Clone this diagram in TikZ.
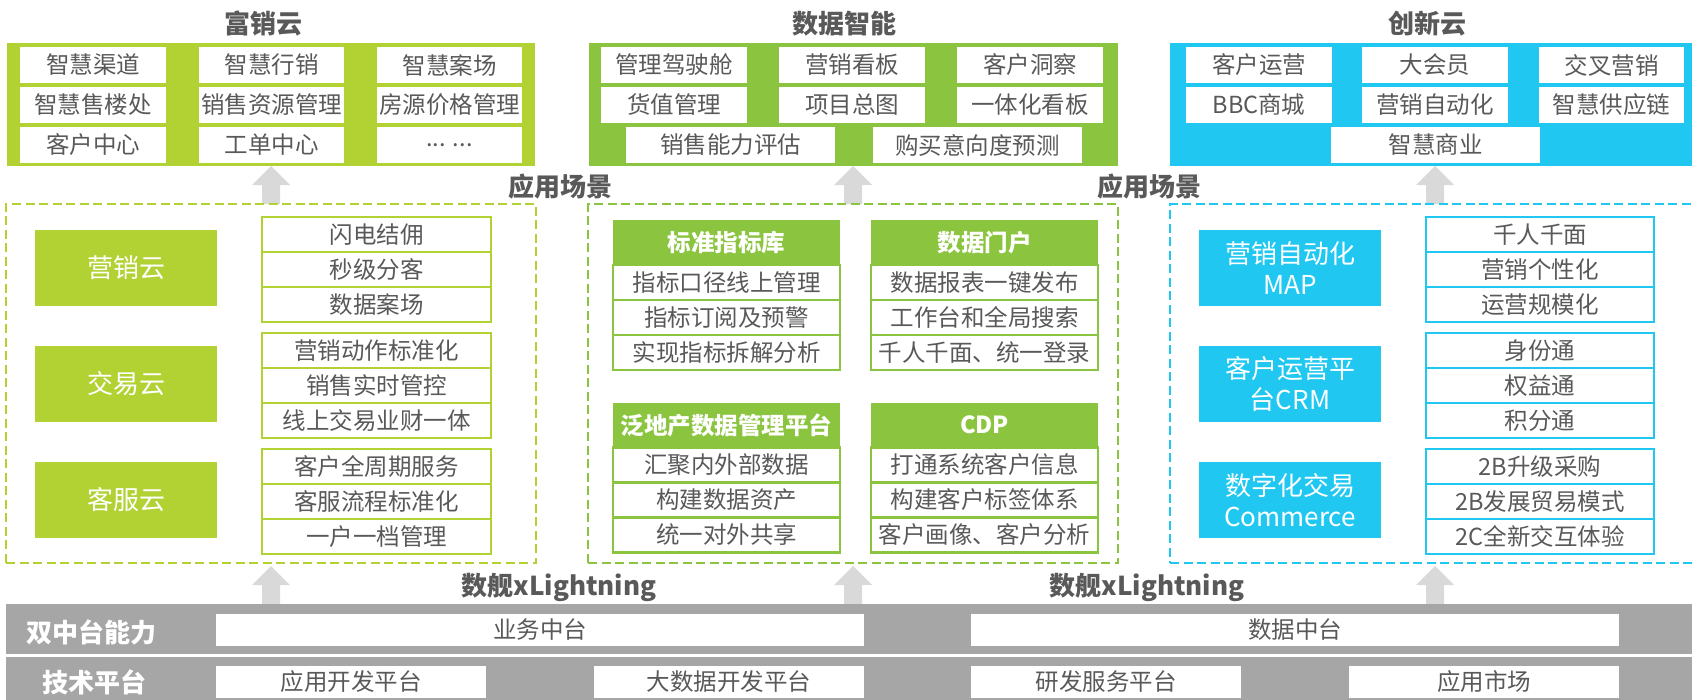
\documentclass[tikz,border=0pt]{standalone}
\usepackage{fontspec}
\setmainfont{Noto Sans CJK SC}
\definecolor{lg}{HTML}{B2D234}
\definecolor{mg}{HTML}{8BC53F}
\definecolor{cy}{HTML}{20C8F1}
\definecolor{gbar}{HTML}{A6A6A6}
\definecolor{agray}{HTML}{D9D9D9}
\definecolor{txt}{HTML}{595959}
\tikzset{
 base/.style={inner sep=0pt, outer sep=0pt},
 itemfont/.style={font=\fontsize{23.5}{26}\selectfont},
 wbox/.style={base, itemfont, text=txt, fill=white, minimum height=36pt},
 fillpanel/.style={base, anchor=north west, fill=#1},
 dpanel/.style={base, anchor=north west, draw=#1, line width=2pt, dash pattern=on 9pt off 4.5pt},
 cloudbox/.style={base, fill=#1, text=white, minimum width=182pt, minimum height=76pt, font=\fontsize{26}{31}\selectfont, align=center},
 itembox/.style={base, itemfont, text=txt, fill=white, draw=#1, line width=2.5pt, minimum height=35pt},
 hdr/.style={base, fill=mg, text=white, font=\fontsize{23.5}{26}\selectfont\bfseries, minimum width=227pt, minimum height=45pt},
 ttl/.style={base, text=txt, font=\fontsize{26}{30}\selectfont\bfseries},
 barlbl/.style={base, text=white, font=\fontsize{26}{30}\selectfont\bfseries},
 barbox/.style={base, itemfont, text=txt, fill=white, minimum height=32pt},
 uparrow/.pic={\fill[agray] (-9,0) -- (-9,-19) -- (-19,-19) -- (0,-38) -- (19,-19) -- (9,-19) -- (9,0) -- cycle;},
}
\begin{document}
\begin{tikzpicture}[x=1pt,y=-1pt]
\useasboundingbox (0,0) rectangle (1692,699);
\clip (0,0) rectangle (1692,699);
\fill[white] (0,0) rectangle (1692,699);

% ---------- titles ----------
\node[ttl] (t1) at (263,24) {富销云};
\node[ttl] (t2) at (844,24) {数据智能};
\node[ttl] (t3) at (1427,24) {创新云};

% ---------- top panels ----------
\node[fillpanel=lg, minimum width=528pt, minimum height=123pt] (p1) at (7,43) {};
\node[fillpanel=mg, minimum width=529pt, minimum height=123pt] (p2) at (589,43) {};
\node[fillpanel=cy, minimum width=540pt, minimum height=123pt] (p3) at (1170,43) {};

% left top boxes
\node[wbox, minimum width=146pt] (a11) at (93,65) {智慧渠道};
\node[wbox, minimum width=145pt] (a12) at (271.5,65) {智慧行销};
\node[wbox, minimum width=145pt] (a13) at (449.5,65) {智慧案场};
\node[wbox, minimum width=146pt] (a21) at (93,105) {智慧售楼处};
\node[wbox, minimum width=145pt] (a22) at (271.5,105) {销售资源管理};
\node[wbox, minimum width=145pt] (a23) at (449.5,105) {房源价格管理};
\node[wbox, minimum width=146pt] (a31) at (93,145) {客户中心};
\node[wbox, minimum width=145pt] (a32) at (271.5,145) {工单中心};
\node[wbox, minimum width=145pt] (a33) at (449.5,145) {... ...};

% middle top boxes
\node[wbox, minimum width=146pt] (b11) at (674,65) {管理驾驶舱};
\node[wbox, minimum width=146pt] (b12) at (852,65) {营销看板};
\node[wbox, minimum width=146pt] (b13) at (1030,65) {客户洞察};
\node[wbox, minimum width=146pt] (b21) at (674,105) {货值管理};
\node[wbox, minimum width=146pt] (b22) at (852,105) {项目总图};
\node[wbox, minimum width=146pt] (b23) at (1030,105) {一体化看板};
\node[wbox, minimum width=209pt] (b31) at (730.5,145) {销售能力评估};
\node[wbox, minimum width=209pt] (b32) at (977.5,145) {购买意向度预测};

% right top boxes
\node[wbox, minimum width=146pt] (c11) at (1259,65) {客户运营};
\node[wbox, minimum width=146pt] (c12) at (1435,65) {大会员};
\node[wbox, minimum width=145pt] (c13) at (1611.5,65) {交叉营销};
\node[wbox, minimum width=146pt] (c21) at (1259,105) {BBC商城};
\node[wbox, minimum width=146pt] (c22) at (1435,105) {营销自动化};
\node[wbox, minimum width=145pt] (c23) at (1611.5,105) {智慧供应链};
\node[wbox, minimum width=209pt] (c31) at (1435.5,145) {智慧商业};

% ---------- labels ----------
\node[ttl] (s1) at (560,187) {应用场景};
\node[ttl] (s2) at (1149,187) {应用场景};
\node[ttl] (x1) at (559,587) {数舰xLightning};
\node[ttl] (x2) at (1147,587) {数舰xLightning};

% ---------- arrows ----------
\pic at (271,204) {uparrow};
\pic at (853,204) {uparrow};
\pic at (1435,204) {uparrow};
\pic at (271,604) {uparrow};
\pic at (853,604) {uparrow};
\pic at (1435,604) {uparrow};

% ---------- dashed panels ----------
\node[dpanel=lg, minimum width=530pt, minimum height=359pt] (d1) at (6,204) {};
\node[dpanel=mg, minimum width=530pt, minimum height=359pt] (d2) at (588,204) {};
\node[dpanel=cy, minimum width=560pt, minimum height=359pt] (d3) at (1170,204) {};

% left clouds
\node[cloudbox=lg] (e1) at (126,268) {营销云};
\node[cloudbox=lg] (e2) at (126,384) {交易云};
\node[cloudbox=lg] (e3) at (126,500) {客服云};
\node[itembox=lg, minimum width=229pt] (e11) at (376.5,234.5) {闪电结佣};
\node[itembox=lg, minimum width=229pt] (e12) at (376.5,269.5) {秒级分客};
\node[itembox=lg, minimum width=229pt] (e13) at (376.5,304.5) {数据案场};
\node[itembox=lg, minimum width=229pt] (e21) at (376.5,350.5) {营销动作标准化};
\node[itembox=lg, minimum width=229pt] (e22) at (376.5,385.5) {销售实时管控};
\node[itembox=lg, minimum width=229pt] (e23) at (376.5,420.5) {线上交易业财一体};
\node[itembox=lg, minimum width=229pt] (e31) at (376.5,466.5) {客户全周期服务};
\node[itembox=lg, minimum width=229pt] (e32) at (376.5,501.5) {客服流程标准化};
\node[itembox=lg, minimum width=229pt] (e33) at (376.5,536.5) {一户一档管理};

% middle
\node[hdr] (f1) at (726.5,242.5) {标准指标库};
\node[itembox=mg, minimum width=227pt] (f11) at (726.5,282.5) {指标口径线上管理};
\node[itembox=mg, minimum width=227pt] (f12) at (726.5,317.5) {指标订阅及预警};
\node[itembox=mg, minimum width=227pt] (f13) at (726.5,352.5) {实现指标拆解分析};
\node[hdr] (g1) at (984.5,242.5) {数据门户};
\node[itembox=mg, minimum width=227pt] (g11) at (984.5,282.5) {数据报表一键发布};
\node[itembox=mg, minimum width=227pt] (g12) at (984.5,317.5) {工作台和全局搜索};
\node[itembox=mg, minimum width=227pt] (g13) at (984.5,352.5) {千人千面、统一登录};
\node[hdr] (h1) at (726.5,425) {泛地产数据管理平台};
\node[itembox=mg, minimum width=227pt] (h11) at (726.5,465) {汇聚内外部数据};
\node[itembox=mg, minimum width=227pt] (h12) at (726.5,500) {构建数据资产};
\node[itembox=mg, minimum width=227pt] (h13) at (726.5,535) {统一对外共享};
\node[hdr] (k1) at (984.5,425) {CDP};
\node[itembox=mg, minimum width=227pt] (k11) at (984.5,465) {打通系统客户信息};
\node[itembox=mg, minimum width=227pt] (k12) at (984.5,500) {构建客户标签体系};
\node[itembox=mg, minimum width=227pt] (k13) at (984.5,535) {客户画像、客户分析};

% right
\node[cloudbox=cy] (m1) at (1290,268) {营销自动化\\MAP};
\node[cloudbox=cy] (m2) at (1290,384) {客户运营平\\台CRM};
\node[cloudbox=cy] (m3) at (1290,500) {数字化交易\\Commerce};
\node[itembox=cy, minimum width=228pt] (m11) at (1540,234.5) {千人千面};
\node[itembox=cy, minimum width=228pt] (m12) at (1540,269.5) {营销个性化};
\node[itembox=cy, minimum width=228pt] (m13) at (1540,304.5) {运营规模化};
\node[itembox=cy, minimum width=228pt] (m21) at (1540,350.5) {身份通};
\node[itembox=cy, minimum width=228pt] (m22) at (1540,385.5) {权益通};
\node[itembox=cy, minimum width=228pt] (m23) at (1540,420.5) {积分通};
\node[itembox=cy, minimum width=228pt] (m31) at (1540,466.5) {2B升级采购};
\node[itembox=cy, minimum width=228pt] (m32) at (1540,501.5) {2B发展贸易模式};
\node[itembox=cy, minimum width=228pt] (m33) at (1540,536.5) {2C全新交互体验};

% ---------- bottom bars ----------
\node[fillpanel=gbar, minimum width=1700pt, minimum height=50pt] (bar1) at (6,604) {};
\node[fillpanel=gbar, minimum width=1700pt, minimum height=45pt] (bar2) at (6,657) {};
\node[barlbl] (l1) at (91,632) {双中台能力};
\node[barlbl] (l2) at (94,682) {技术平台};
\node[barbox, minimum width=648pt] (n1) at (540,630) {业务中台};
\node[barbox, minimum width=648pt] (n2) at (1295,630) {数据中台};
\node[barbox, minimum width=270pt] (q1) at (351,682) {应用开发平台};
\node[barbox, minimum width=270pt] (q2) at (729,682) {大数据开发平台};
\node[barbox, minimum width=270pt] (q3) at (1106,682) {研发服务平台};
\node[barbox, minimum width=270pt] (q4) at (1484,682) {应用市场};
\end{tikzpicture}
\end{document}
